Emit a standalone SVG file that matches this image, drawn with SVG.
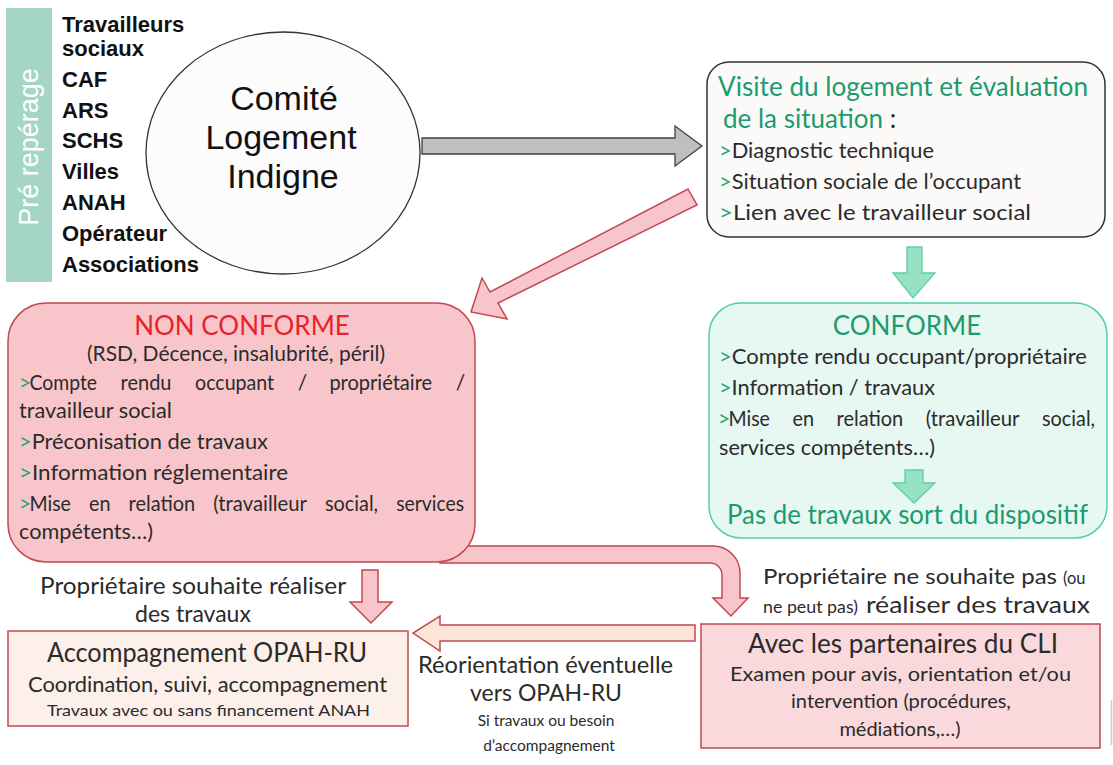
<svg xmlns="http://www.w3.org/2000/svg" width="1113" height="765" viewBox="0 0 1113 765">
<defs>
<style>
.c{font-family:Lato,"Noto Sans",sans-serif;fill:#2b2b2b}
.w{font-family:Lato,"Noto Sans",sans-serif;fill:#2b2b2b;font-size:21px}
.g{fill:#1c9b6e}
.gb{fill:#2aa37a}
.r{fill:#e8222a}
.b{font-family:"Liberation Sans",Arial,sans-serif;font-weight:bold;font-size:22px;fill:#111}
.pink{fill:#f8c6ca;stroke:#bf4a50;stroke-width:1.5}
</style>
</defs>
<rect x="0" y="0" width="1113" height="765" fill="#ffffff"/>

<g id="pre-reperage">
<rect x="6" y="8" width="46" height="274" fill="#a5d5c7"/>
<text transform="translate(38,147) rotate(-90)" text-anchor="middle" font-family="Liberation Sans,Arial,sans-serif" font-size="27" fill="#ffffff">Pré repérage</text>
</g>

<g id="acteurs">
<text class="b" x="62" y="32">Travailleurs</text>
<text class="b" x="62" y="56">sociaux</text>
<text class="b" x="62" y="87">CAF</text>
<text class="b" x="62" y="118">ARS</text>
<text class="b" x="62" y="148">SCHS</text>
<text class="b" x="62" y="179">Villes</text>
<text class="b" x="62" y="210">ANAH</text>
<text class="b" x="62" y="241">Opérateur</text>
<text class="b" x="62" y="272">Associations</text>
</g>

<g id="connectors">
<path d="M422,138 H675 V126 L702,146 L675,166 V154 H422 Z" fill="#bfbfbf" stroke="#404040" stroke-width="1.3"/>
<path d="M688,189 L697,205 L498,303 L507,319 L471,312 L482,278 L490,292 Z" class="pink"/>
<path d="M907,247 H922 V273 H935 L913,298 L893,273 H907 Z" fill="#95e3c4" stroke="#5fcfa4" stroke-width="1.3"/>
<path d="M440,546 H713 A27,27 0 0 1 740,573 V598 H748 L731,616 L713,598 H722 V575 A12,12 0 0 0 710,563 H440 Z" class="pink"/>
<path d="M362,570 H378 V602 H392 L371,623 L350,602 H362 Z" class="pink"/>
<path d="M695,625 V641 H440 V651 L413,633 L440,616 V625 Z" fill="#fde5d8" stroke="#bf4a50" stroke-width="1.5"/>
</g>

<g id="comite">
<ellipse cx="283" cy="153" rx="137" ry="121" fill="#fcfcfc" stroke="#333" stroke-width="1.3"/>
<text x="284" y="110" text-anchor="middle" font-family="Liberation Sans,Arial,sans-serif" font-size="34" fill="#111">Comité</text>
<text x="281" y="149" text-anchor="middle" font-family="Liberation Sans,Arial,sans-serif" font-size="34" fill="#111">Logement</text>
<text x="283" y="188" text-anchor="middle" font-family="Liberation Sans,Arial,sans-serif" font-size="34" fill="#111">Indigne</text>
</g>

<g id="visite">
<rect x="707" y="62" width="398" height="175" rx="22" fill="#fbfaf9" stroke="#333" stroke-width="1.5"/>
<text class="c g" x="718" y="96" font-size="26" textLength="370" lengthAdjust="spacingAndGlyphs">Visite du logement et évaluation</text>
<text class="c" x="723" y="128" font-size="26"><tspan class="g">de la situation</tspan> :</text>
<text class="c" x="719" y="158" font-size="21" textLength="215" lengthAdjust="spacingAndGlyphs"><tspan class="gb">&gt;</tspan>Diagnostic technique</text>
<text class="c" x="719" y="189" font-size="21" textLength="302" lengthAdjust="spacingAndGlyphs"><tspan class="gb">&gt;</tspan>Situation sociale de l’occupant</text>
<text class="c" x="719" y="220" font-size="21" textLength="312" lengthAdjust="spacingAndGlyphs"><tspan class="gb">&gt;</tspan>Lien avec le travailleur social</text>
</g>

<g id="conforme">
<rect x="709" y="303" width="398" height="235" rx="32" fill="#e6f8f1" stroke="#52cfa5" stroke-width="1.5"/>
<text class="c g" x="907" y="335" text-anchor="middle" font-size="26">CONFORME</text>
<text class="c" x="719" y="364" font-size="21" textLength="368" lengthAdjust="spacingAndGlyphs"><tspan class="gb">&gt;</tspan>Compte rendu occupant/propriétaire</text>
<text class="c" x="719" y="395" font-size="21" textLength="216" lengthAdjust="spacingAndGlyphs"><tspan class="gb">&gt;</tspan>Information / travaux</text>
<text class="w gb" x="718" y="426">&gt;</text>
<text class="w" x="728.5" y="426" textLength="41.4" lengthAdjust="spacingAndGlyphs">Mise</text>
<text class="w" x="792.5" y="426" textLength="21.5" lengthAdjust="spacingAndGlyphs">en</text>
<text class="w" x="836.6" y="426" textLength="66.6" lengthAdjust="spacingAndGlyphs">relation</text>
<text class="w" x="925.8" y="426" textLength="93.6" lengthAdjust="spacingAndGlyphs">(travailleur</text>
<text class="w" x="1042" y="426" textLength="53.1" lengthAdjust="spacingAndGlyphs">social,</text>
<text class="c" x="719" y="455" font-size="21" textLength="216" lengthAdjust="spacingAndGlyphs">services compétents…)</text>
<path d="M905,470 H923 V483 H935 L914,503 L893,483 H905 Z" fill="#95e3c4" stroke="#5fcfa4" stroke-width="1.3"/>
<text class="c g" x="727" y="524" font-size="27" textLength="361" lengthAdjust="spacingAndGlyphs">Pas de travaux sort du dispositif</text>
</g>

<g id="non-conforme">
<rect x="8" y="303" width="467" height="259" rx="38" class="pink"/>
<text class="c r" x="242" y="335" text-anchor="middle" font-size="26">NON CONFORME</text>
<text class="c" x="87" y="361" font-size="21" textLength="298" lengthAdjust="spacingAndGlyphs">(RSD, Décence, insalubrité, péril)</text>
<text class="w gb" x="19" y="390">&gt;</text>
<text class="w" x="29.5" y="390" textLength="67.5" lengthAdjust="spacingAndGlyphs">Compte</text>
<text class="w" x="120.6" y="390" textLength="50.9" lengthAdjust="spacingAndGlyphs">rendu</text>
<text class="w" x="195.1" y="390" textLength="79" lengthAdjust="spacingAndGlyphs">occupant</text>
<text class="w" x="297.7" y="390">/</text>
<text class="w" x="329.4" y="390" textLength="102.7" lengthAdjust="spacingAndGlyphs">propriétaire</text>
<text class="w" x="455.7" y="390">/</text>
<text class="c" x="19" y="418" font-size="21" textLength="153" lengthAdjust="spacingAndGlyphs">travailleur social</text>
<text class="c" x="19" y="449" font-size="21" textLength="249" lengthAdjust="spacingAndGlyphs"><tspan class="gb">&gt;</tspan>Préconisation de travaux</text>
<text class="c" x="19" y="480" font-size="21" textLength="269" lengthAdjust="spacingAndGlyphs"><tspan class="gb">&gt;</tspan>Information réglementaire</text>
<text class="w gb" x="19" y="511">&gt;</text>
<text class="w" x="29.5" y="511" textLength="41.4" lengthAdjust="spacingAndGlyphs">Mise</text>
<text class="w" x="89" y="511" textLength="21.5" lengthAdjust="spacingAndGlyphs">en</text>
<text class="w" x="128.6" y="511" textLength="66.6" lengthAdjust="spacingAndGlyphs">relation</text>
<text class="w" x="213.3" y="511" textLength="93.6" lengthAdjust="spacingAndGlyphs">(travailleur</text>
<text class="w" x="325" y="511" textLength="53.1" lengthAdjust="spacingAndGlyphs">social,</text>
<text class="w" x="396.2" y="511" textLength="67.9" lengthAdjust="spacingAndGlyphs">services</text>
<text class="c" x="19" y="539" font-size="21" textLength="134" lengthAdjust="spacingAndGlyphs">compétents…)</text>
</g>

<g id="label-souhaite">
<text class="c" x="40" y="594" font-size="23" textLength="306" lengthAdjust="spacingAndGlyphs">Propriétaire souhaite réaliser</text>
<text class="c" x="193" y="622" text-anchor="middle" font-size="23">des travaux</text>
</g>

<g id="opah">
<rect x="8" y="631" width="400" height="95" fill="#fdefe9" stroke="#bf4a50" stroke-width="1.5"/>
<text class="c" x="47" y="662" font-size="26" textLength="320" lengthAdjust="spacingAndGlyphs" fill="#111">Accompagnement OPAH-RU</text>
<text class="c" x="28" y="692" font-size="21" textLength="359" lengthAdjust="spacingAndGlyphs">Coordination, suivi, accompagnement</text>
<text class="c" x="47" y="716" font-size="16" textLength="323" lengthAdjust="spacingAndGlyphs">Travaux avec ou sans financement ANAH</text>
</g>

<g id="label-reorientation">
<text class="c" x="418" y="673" font-size="23" textLength="255" lengthAdjust="spacingAndGlyphs">Réorientation éventuelle</text>
<text class="c" x="546" y="701" text-anchor="middle" font-size="23">vers OPAH-RU</text>
<text class="c" x="546" y="726" text-anchor="middle" font-size="15.5" fill="#444">Si travaux ou besoin</text>
<text class="c" x="549" y="751" text-anchor="middle" font-size="15.5" fill="#444">d’accompagnement</text>
</g>

<g id="label-ne-souhaite">
<text class="c" x="763" y="584" font-size="21.5" textLength="294" lengthAdjust="spacingAndGlyphs">Propriétaire ne souhaite pas</text>
<text class="c" x="1063" y="584" font-size="16.5" fill="#444">(ou</text>
<text class="c" x="763" y="613" font-size="16.5" fill="#444" textLength="95" lengthAdjust="spacingAndGlyphs">ne peut pas)</text>
<text class="c" x="866" y="613" font-size="22.5" textLength="224" lengthAdjust="spacingAndGlyphs">réaliser des travaux</text>
</g>

<g id="cli">
<rect x="701" y="624" width="399" height="124" fill="#f9d9dc" stroke="#bf4a50" stroke-width="1.5"/>
<text class="c" x="748" y="653" font-size="26" textLength="310" lengthAdjust="spacingAndGlyphs" fill="#111">Avec les partenaires du CLI</text>
<text class="c" x="730" y="681" font-size="20" textLength="341" lengthAdjust="spacingAndGlyphs">Examen pour avis, orientation et/ou</text>
<text class="c" x="901" y="708" text-anchor="middle" font-size="20">intervention (procédures,</text>
<text class="c" x="900" y="736" text-anchor="middle" font-size="20">médiations,…)</text>
</g>

<line x1="1111.5" y1="700" x2="1111.5" y2="745" stroke="#cccccc" stroke-width="1.5"/>
</svg>
